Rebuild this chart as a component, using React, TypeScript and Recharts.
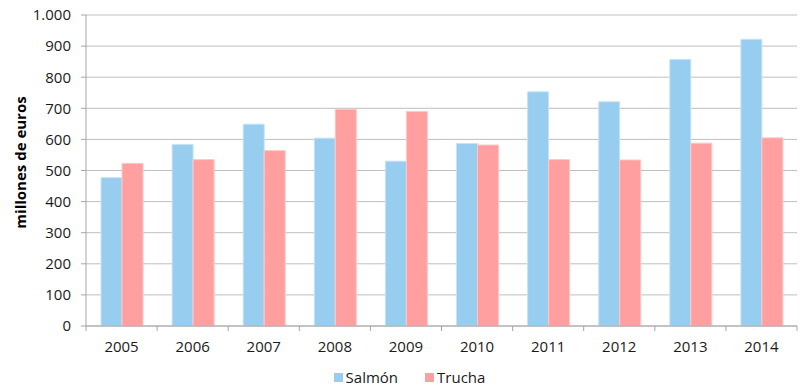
import React from 'react';
import { BarChart, Bar, XAxis, YAxis, CartesianGrid, Legend } from 'recharts';

const YEARS = ['2005', '2006', '2007', '2008', '2009', '2010', '2011', '2012', '2013', '2014'];
const SALMON = [477, 584, 649, 604, 530, 587, 753, 721, 857, 922];
const TRUCHA = [523, 535, 564, 697, 690, 582, 535, 534, 588, 605];
const Y_TICKS = [0, 100, 200, 300, 400, 500, 600, 700, 800, 900, 1000];

const FONT = '"Open Sans", "DejaVu Sans", sans-serif';
const AXIS_GRAY = '#A6A6A6';
const BLUE = '#97CDEE';
const PINK = '#FF9F9F';

const W = 803;
const H = 387;
const PLOT_LEFT = 86;
const PLOT_RIGHT = 797;
const BAND = (PLOT_RIGHT - PLOT_LEFT) / YEARS.length;

const data = YEARS.map((year, i) => ({ year, salmon: SALMON[i], trucha: TRUCHA[i] }));

const fmt = (v: number) => (v >= 1000 ? v.toLocaleString('de-DE') : String(v));

// category label plus a boundary tick on the left edge of each band
function YearTick(props: any) {
  const { x, y, payload, index } = props;
  const left = x - BAND / 2;
  return (
    <g>
      <line x1={left} x2={left} y1={y - 8} y2={y - 3} stroke={AXIS_GRAY} />
      {index === YEARS.length - 1 && (
        <line x1={x + BAND / 2} x2={x + BAND / 2} y1={y - 8} y2={y - 3} stroke={AXIS_GRAY} />
      )}
      <text x={x} y={y + 18} textAnchor="middle" fill="#1a1a1a" fontSize={15} fontFamily={FONT}>
        {payload.value}
      </text>
    </g>
  );
}

function LegendContent() {
  const items = [
    { name: 'Salmón', color: BLUE },
    { name: 'Trucha', color: PINK },
  ];
  return (
    <div
      style={{
        display: 'flex',
        justifyContent: 'center',
        gap: 27,
        fontFamily: FONT,
        fontSize: 15,
        color: '#1a1a1a',
        paddingLeft: 22,
        paddingTop: 11,
        lineHeight: '20px',
      }}
    >
      {items.map((it) => (
        <span key={it.name} style={{ display: 'flex', alignItems: 'center' }}>
          <span style={{ width: 9, height: 9, background: it.color, marginRight: 3, display: 'inline-block' }} />
          {it.name}
        </span>
      ))}
    </div>
  );
}

export default function App() {
  return (
    <div style={{ position: 'absolute', left: 0, top: 0, width: W, height: H, background: '#fff' }}>
      <BarChart
        width={W}
        height={H}
        data={data}
        margin={{ top: 15, right: W - PLOT_RIGHT, left: 0, bottom: 0 }}
        barGap={0}
        barSize={21}
      >
        <CartesianGrid vertical={false} stroke="#BFBFBF" />
        <XAxis
          dataKey="year"
          height={30}
          axisLine={{ stroke: AXIS_GRAY }}
          tickLine={false}
          tick={<YearTick />}
          interval={0}
        />
        <YAxis
          width={PLOT_LEFT}
          domain={[0, 1000]}
          ticks={Y_TICKS}
          tickFormatter={fmt}
          axisLine={{ stroke: AXIS_GRAY }}
          tickLine={{ stroke: AXIS_GRAY }}
          tickSize={5}
          tickMargin={10}
          tick={{ fill: '#1a1a1a', fontSize: 15, fontFamily: FONT }}
          label={{
            value: 'millones de euros',
            angle: -90,
            position: 'insideLeft',
            dx: 16,
            dy: -8,
            style: { textAnchor: 'middle', fontWeight: 'bold', fontSize: 15, fontFamily: FONT, fill: '#000' },
          }}
        />
        <Legend verticalAlign="bottom" content={<LegendContent />} wrapperStyle={{ height: 31 }} />
        <Bar dataKey="salmon" name="Salmón" fill={BLUE} stroke="#C6E4F7" strokeWidth={1} isAnimationActive={false} />
        <Bar dataKey="trucha" name="Trucha" fill={PINK} stroke="#FFC8C8" strokeWidth={1} isAnimationActive={false} />
      </BarChart>
    </div>
  );
}
